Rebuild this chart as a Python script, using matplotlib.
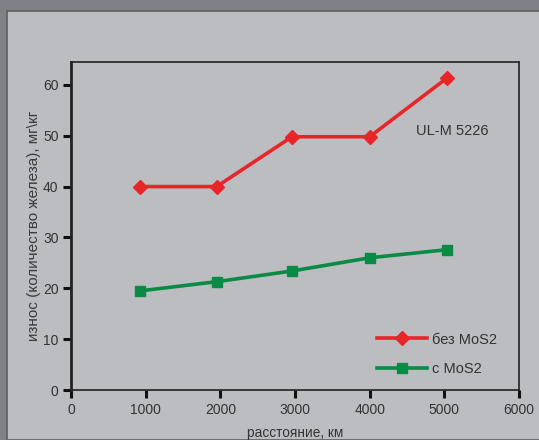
import matplotlib
matplotlib.use("Agg")
from matplotlib import pyplot as plt
from matplotlib.patches import Rectangle

# distance, km
distance = [930, 1950, 2960, 4000, 5040]
# wear (iron content), mg/kg
wear_no_mos2 = [40.0, 40.0, 49.8, 49.8, 61.4]
wear_mos2 = [19.5, 21.3, 23.4, 26.0, 27.6]

series_labels = ['без MoS2', 'с MoS2']
x_label = 'расстояние, км'
y_label = 'износ (количество железа), мг\\кг'
note = 'UL-M 5226'

plt.rcParams['font.family'] = ['Liberation Sans', 'DejaVu Sans']

fig = plt.figure(figsize=(5.39, 4.40), dpi=100)
fig.patch.set_facecolor('#808186')
panel = Rectangle((7 / 539, 0), 1, 1 - 11 / 440, transform=fig.transFigure,
                  facecolor='#bcbdc1', edgecolor='#5f6065', linewidth=1.2, zorder=-5)
fig.add_artist(panel)

ax = fig.add_axes([71 / 539, 50 / 440, 448 / 539, 328 / 440])
ax.set_facecolor('#bcbdc1')

ax.plot(distance, wear_no_mos2, color='#e8262a', lw=2.6, marker='D', markersize=7,
        label=series_labels[0], zorder=3)
ax.plot(distance, wear_mos2, color='#098a45', lw=2.6, marker='s', markersize=7,
        label=series_labels[1], zorder=3)

ax.set_xlim(0, 6000)
ax.set_ylim(0, 64.5)
ax.set_xticks(range(0, 6001, 1000))
ax.set_yticks(range(0, 61, 10))

for s in ax.spines.values():
    s.set_color('#222222')
    s.set_linewidth(1.2)
ax.spines['left'].set_linewidth(2)
ax.tick_params(direction='out', length=6, width=2.2, color='#111111',
               labelsize=10, labelcolor='#333333', pad=3)

ax.set_xlabel(x_label, fontsize=9.8, color='#333333', labelpad=7)
ax.set_ylabel(y_label, fontsize=11, color='#3a3a3a', labelpad=1.5)

ax.text(4620, 51, note, fontsize=10.5, color='#333333', ha='left', va='center')

ax.legend(loc='upper left', bbox_to_anchor=(0.683, 0.175), frameon=False, fontsize=10.5,
          borderpad=0, borderaxespad=0,
          handlelength=3.4, handletextpad=0.35, labelspacing=1.05,
          labelcolor='#333333')

fig.savefig('out.png', dpi=100, facecolor=fig.get_facecolor())
